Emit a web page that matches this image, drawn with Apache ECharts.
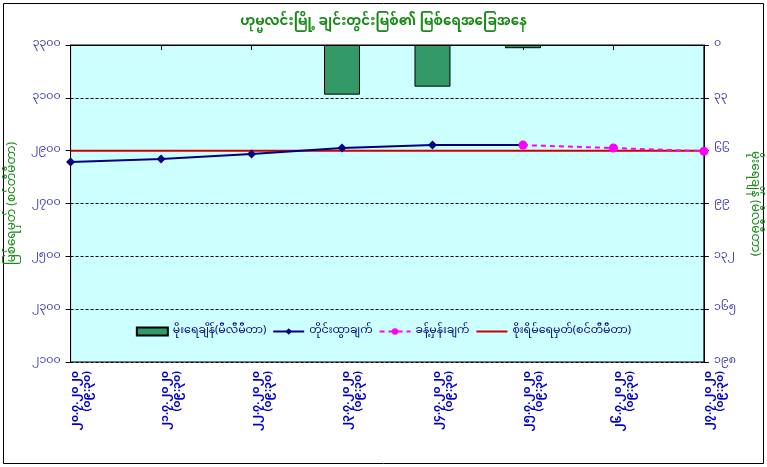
<!DOCTYPE html>
<html>
<head>
<meta charset="utf-8">
<script src="https://cdn.jsdelivr.net/npm/echarts@6/dist/echarts.min.js"></script>
<style>html,body{margin:0;padding:0;background:#fff}#c{width:767px;height:467px}</style>
</head>
<body>
<div id="c"></div>
<script>
const titleText = 'ဟုမ္မလင်းမြို့ ချင်းတွင်းမြစ်၏ မြစ်ရေအခြေအနေ';
const categories = [
  '၂၀.၇.၂၀၂၀\n(၀၉:၃၀)', '၂၁.၇.၂၀၂၀\n(၀၉:၃၀)', '၂၂.၇.၂၀၂၀\n(၀၉:၃၀)', '၂၃.၇.၂၀၂၀\n(၀၉:၃၀)',
  '၂၄.၇.၂၀၂၀\n(၀၉:၃၀)', '၂၅.၇.၂၀၂၀\n(၀၉:၃၀)', '၂၆.၇.၂၀၂၀\n(၀၉:၃၀)', '၂၇.၇.၂၀၂၀\n(၀၉:၃၀)'
];
const rainfall = [0, 0, 0, 31, 26, 2, 0, 0];
const observed = [2857, 2868, 2887, 2910, 2921, 2921, null, null];
const forecast = [null, null, null, null, null, 2921, 2910, 2898];
const dangerLevel = [2900, 2900, 2900, 2900, 2900, 2900, 2900, 2900];
const leftTicks = ['၂၁၀၀', '၂၃၀၀', '၂၅၀၀', '၂၇၀၀', '၂၉၀၀', '၃၁၀၀', '၃၃၀၀'];
const rightTicks = ['၀', '၃၃', '၆၆', '၉၉', '၁၃၂', '၁၆၅', '၁၉၈'];
const seriesNames = ['မိုးရေချိန်(မီလီမီတာ)', 'တိုင်းထွာချက်', 'ခန့်မှန်းချက်', 'စိုးရိမ်ရေမှတ်(စင်တီမီတာ)'];
const leftName = 'မြစ်ရေမှတ် (စင်တီမီတာ)';
const rightName = 'မိုးရေချိန် (မီလီမီတာ)';

const FONT = '"Noto Sans Myanmar", "Padauk", "Myanmar Text", "Noto Sans", sans-serif';
const chart = echarts.init(document.getElementById('c'));
chart.setOption({
  backgroundColor: '#ffffff',
  animation: false,
  textStyle: { fontFamily: FONT },
  graphic: [{
    type: 'rect', shape: { x: 3.5, y: 3.5, width: 760, height: 460 },
    style: { fill: 'none', stroke: '#000', lineWidth: 1 }, z: -1
  }],
  title: {
    text: titleText, left: 'center', top: 12,
    textStyle: { color: '#1a8a1a', fontSize: 13.5, fontWeight: 'bold', fontFamily: FONT }
  },
  legend: {
    bottom: 125, left: 'center', itemGap: 6, itemWidth: 31, itemHeight: 8,
    textStyle: { color: '#000080', fontSize: 11, fontFamily: FONT },
    data: [
      { name: seriesNames[0], icon: 'rect' },
      { name: seriesNames[1] },
      { name: seriesNames[2] },
      { name: seriesNames[3], itemStyle: { opacity: 0 } }
    ]
  },
  grid: { left: 68, right: 57, top: 45, bottom: 105, show: true, backgroundColor: '#ccffff', borderColor: '#000', borderWidth: 1 },
  xAxis: {
    type: 'category', data: categories, boundaryGap: false,
    axisLine: { lineStyle: { color: '#000' } },
    axisTick: { show: true, alignWithLabel: true, length: 5, lineStyle: { color: '#000' } },
    axisLabel: { rotate: 90, interval: 0, color: '#0000cc', fontSize: 11, fontWeight: 'bold', lineHeight: 12,
      verticalAlign: 'top', margin: 9, fontFamily: FONT },
    splitLine: { show: false }
  },
  yAxis: [{
    type: 'value', min: 2100, max: 3300, interval: 200,
    name: leftName, nameLocation: 'middle', nameGap: 42,
    nameTextStyle: { color: '#1a8a1a', fontSize: 12, fontFamily: FONT },
    axisLine: { show: true, lineStyle: { color: '#000' } },
    axisTick: { show: true, length: 5, lineStyle: { color: '#000' } },
    axisLabel: { color: '#4040b0', fontSize: 11, margin: 10, fontFamily: FONT,
      formatter: v => leftTicks[Math.round((v - 2100) / 200)] },
    splitLine: { show: true, lineStyle: { color: '#000', type: [3, 2], width: 1 } }
  }, {
    type: 'value', min: 0, max: 198, interval: 33, inverse: true,
    name: rightName, nameLocation: 'middle', nameGap: 33, nameRotate: -90,
    nameTextStyle: { color: '#1a8a1a', fontSize: 12, fontFamily: FONT },
    axisLine: { show: true, lineStyle: { color: '#000' } },
    axisTick: { show: true, length: 5, lineStyle: { color: '#000' } },
    axisLabel: { color: '#4040b0', fontSize: 11, margin: 10, fontFamily: FONT,
      formatter: v => rightTicks[Math.round(v / 33)] },
    splitLine: { show: false }
  }],
  series: [{
    name: seriesNames[0], type: 'bar', yAxisIndex: 1, barWidth: 36,
    data: rainfall.map(v => (v === 0 ? '-' : v)),
    itemStyle: { color: '#339966', borderColor: '#000', borderWidth: 1 }, z: 2
  }, {
    name: seriesNames[3], type: 'line', data: dangerLevel, symbol: 'none',
    lineStyle: { color: '#cc0000', width: 2 }, itemStyle: { color: '#cc0000' }, z: 3
  }, {
    name: seriesNames[1], type: 'line', data: observed, symbol: 'diamond', symbolSize: 9,
    lineStyle: { color: '#000080', width: 2 }, itemStyle: { color: '#000080' }, z: 4
  }, {
    name: seriesNames[2], type: 'line', data: forecast, symbol: 'circle', symbolSize: 9,
    lineStyle: { color: '#ff00ff', width: 2, type: [5, 4] }, itemStyle: { color: '#ff00ff' }, z: 5
  }]
});
</script>
</body>
</html>
